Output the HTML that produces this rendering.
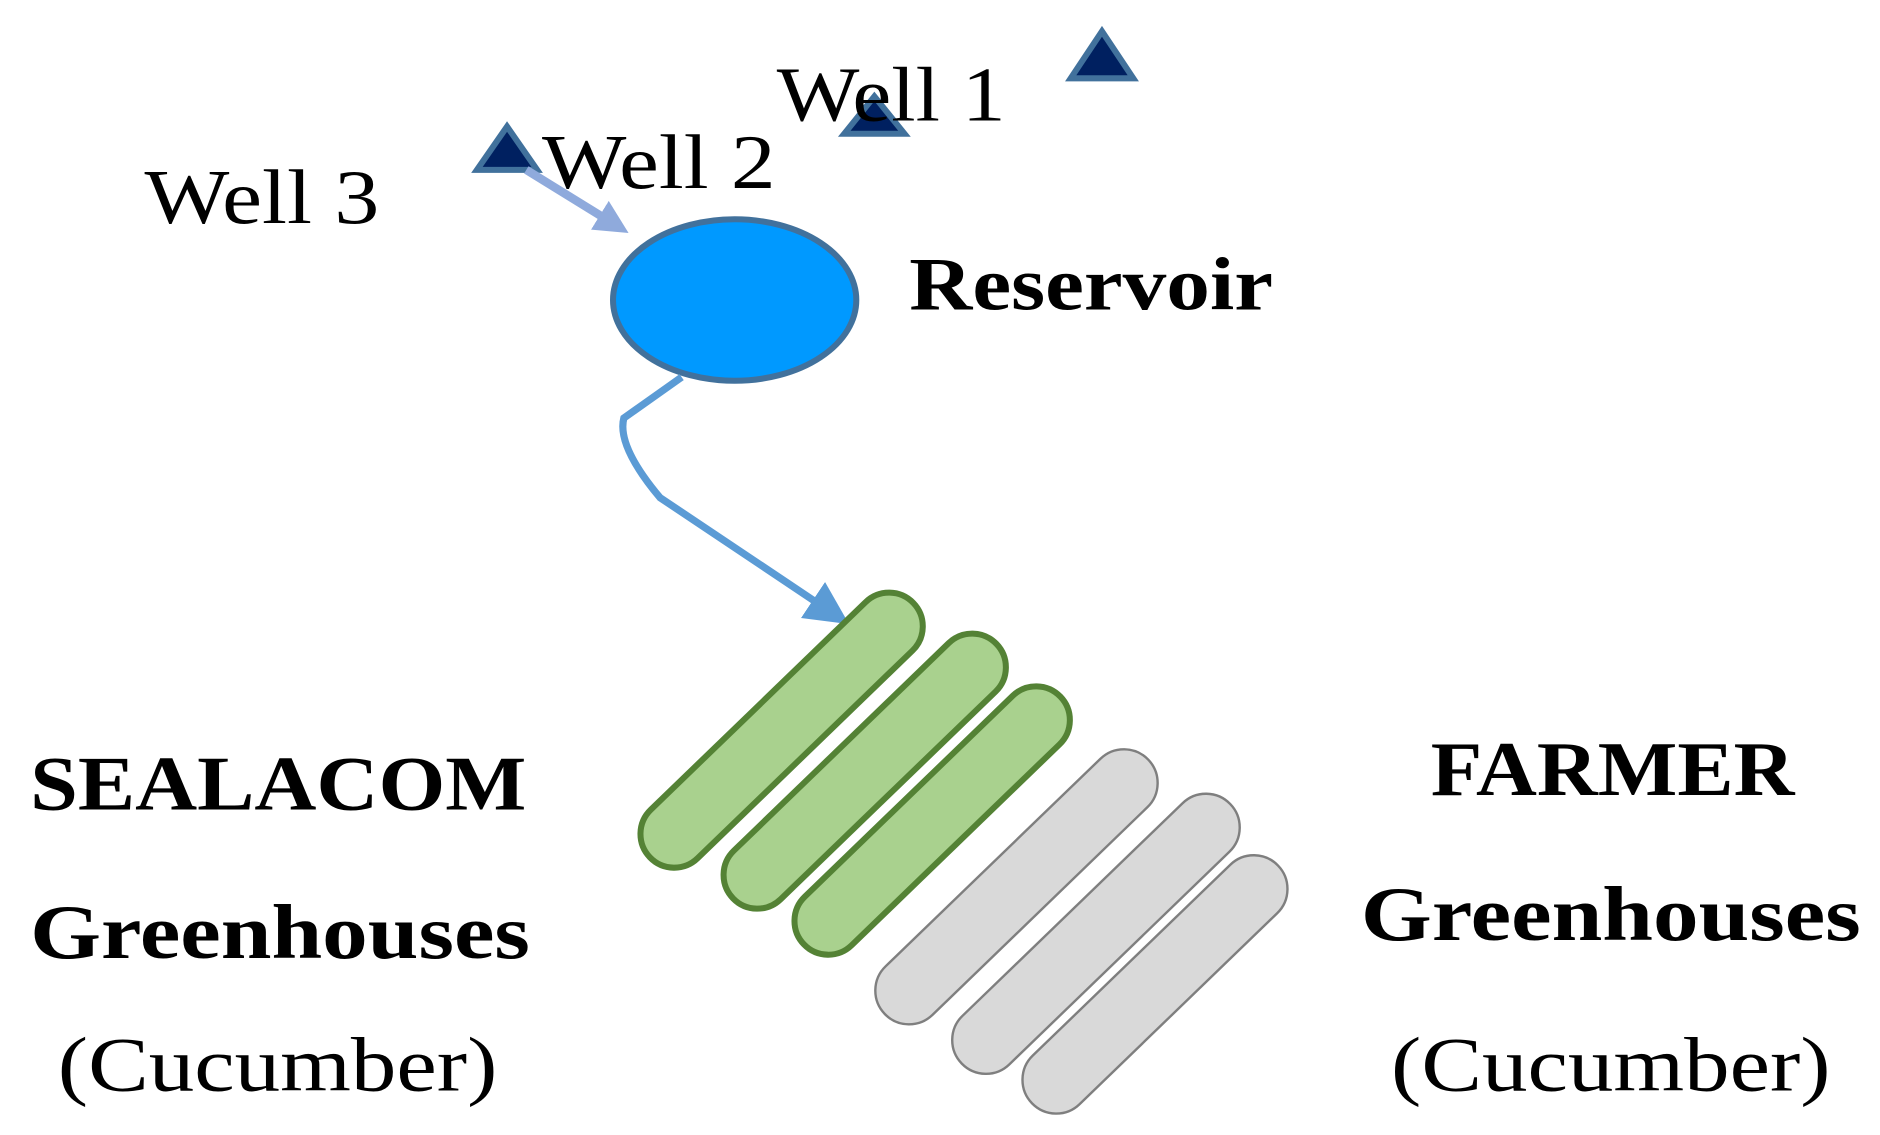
<!DOCTYPE html>
<html><head><meta charset="utf-8"><style>html,body{margin:0;padding:0;background:#fff}svg{display:block}</style></head>
<body>
<svg width="1880" height="1135" viewBox="0 0 1561 942" preserveAspectRatio="none" xmlns="http://www.w3.org/2000/svg">
<defs>
<marker id="a1" markerWidth="4" markerHeight="4" refX="2" refY="2" orient="auto" markerUnits="strokeWidth"><path d="M0,0 L4,2 L0,4 z" fill="#8faadc"/></marker>
<marker id="a2" markerWidth="6" markerHeight="6" refX="3" refY="3" orient="auto" markerUnits="strokeWidth"><path d="M0,0 L6,3 L0,6 z" fill="#5b9bd5"/></marker>
</defs>
<g font-family="Liberation Serif, serif" fill="#000">
<polygon points="915,26 941,65 889,65" fill="#002060" stroke="#41719c" stroke-width="5"/>
<polygon points="726,80 751,111 701,111" fill="#002060" stroke="#41719c" stroke-width="5"/>
<polygon points="421,105 446,141 396,141" fill="#002060" stroke="#41719c" stroke-width="5"/>
<line x1="437" y1="141" x2="510" y2="186" stroke="#8faadc" stroke-width="7" marker-end="url(#a1)"/>
<text x="645" y="100" font-size="64" textLength="190" lengthAdjust="spacingAndGlyphs">Well 1</text>
<text x="450" y="156" font-size="64" textLength="194" lengthAdjust="spacingAndGlyphs">Well 2</text>
<text x="120" y="185" font-size="64" textLength="195" lengthAdjust="spacingAndGlyphs">Well 3</text>
<ellipse cx="610" cy="249" rx="101" ry="67" fill="#0099ff" stroke="#41719c" stroke-width="5"/>
<text x="755" y="257" font-size="62" font-weight="bold" textLength="302" lengthAdjust="spacingAndGlyphs">Reservoir</text>
<path d="M566,313 L518,347 Q512,370 548,413 L690,508" fill="none" stroke="#5b9bd5" stroke-width="6" marker-end="url(#a2)"/>
<g stroke="#548235" stroke-width="5" fill="#a9d18e">
<rect x="-152" y="-28" width="304" height="56" rx="28" transform="translate(649,606) rotate(-44)"/>
<rect x="-152" y="-28" width="304" height="56" rx="28" transform="translate(718,640) rotate(-44)"/>
<rect x="-148" y="-28" width="296" height="56" rx="28" transform="translate(774,681) rotate(-44)"/>
</g>
<g stroke="#7f7f7f" stroke-width="2" fill="#d9d9d9">
<rect x="-152" y="-28" width="304" height="56" rx="28" transform="translate(844,736) rotate(-44)"/>
<rect x="-155" y="-28" width="310" height="56" rx="28" transform="translate(910,775) rotate(-44)"/>
<rect x="-142" y="-28" width="284" height="56" rx="28" transform="translate(959,817) rotate(-44)"/>
</g>
<text x="25" y="672" font-size="64" font-weight="bold" textLength="412" lengthAdjust="spacingAndGlyphs">SEALACOM</text>
<text x="25" y="795" font-size="64" font-weight="bold" textLength="415" lengthAdjust="spacingAndGlyphs">Greenhouses</text>
<text x="48" y="905" font-size="64" textLength="365" lengthAdjust="spacingAndGlyphs">(Cucumber)</text>
<text x="1188" y="660" font-size="64" font-weight="bold" textLength="302" lengthAdjust="spacingAndGlyphs">FARMER</text>
<text x="1130" y="780" font-size="64" font-weight="bold" textLength="415" lengthAdjust="spacingAndGlyphs">Greenhouses</text>
<text x="1155" y="905" font-size="64" textLength="365" lengthAdjust="spacingAndGlyphs">(Cucumber)</text>
</g>
</svg>
</body></html>
